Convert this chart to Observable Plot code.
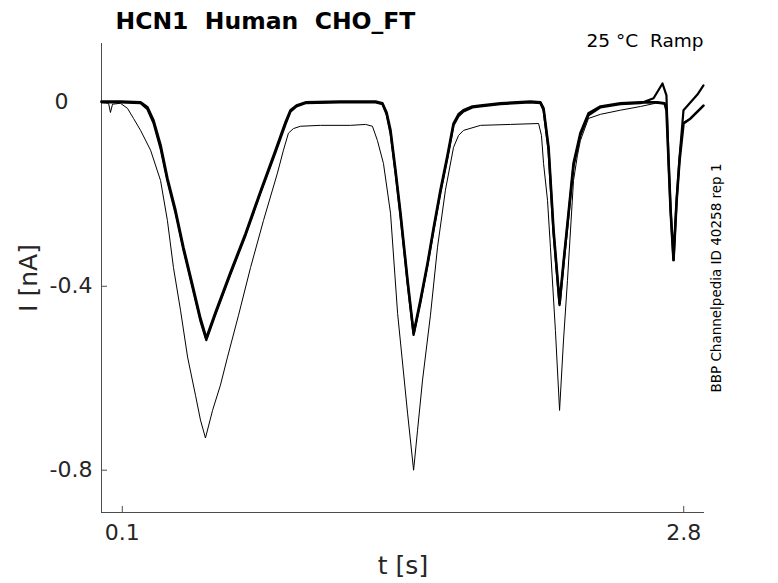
<!DOCTYPE html>
<html>
<head>
<meta charset="utf-8">
<script src="https://cdn.jsdelivr.net/npm/d3@7"></script>
<script src="https://cdn.jsdelivr.net/npm/@observablehq/plot@0.6"></script>
<style>
  html, body { margin: 0; padding: 0; background: #fff; }
  svg { font-family: "DejaVu Sans", sans-serif; }
</style>
</head>
<body>
<div id="chart"></div>
<script>
// ---- data (t in s, I in nA) ----
const timeA = [0.0,0.091,0.188,0.221,0.250,0.284,0.317,0.356,0.394,0.438,0.476,0.504,0.548,0.620,0.693,0.765,0.837,0.885,0.909,0.938,0.981,1.149,1.318,1.351,1.371,1.390,1.414,1.438,1.472,1.501,1.534,1.568,1.597,1.630,1.664,1.693,1.717,1.741,1.784,1.823,1.919,2.063,2.111,2.126,2.150,2.174,2.203,2.222,2.241,2.270,2.303,2.342,2.400,2.496,2.592,2.674,2.708,2.717,2.727,2.737,2.751,2.766,2.780,2.799,2.833,2.866,2.895];
const currentA = [0.002,0.002,0.0,-0.011,-0.039,-0.093,-0.165,-0.235,-0.315,-0.398,-0.470,-0.513,-0.457,-0.370,-0.285,-0.193,-0.104,-0.043,-0.017,-0.007,0.0,0.002,0.002,-0.002,-0.022,-0.061,-0.148,-0.241,-0.387,-0.502,-0.430,-0.350,-0.274,-0.191,-0.115,-0.046,-0.026,-0.017,-0.009,-0.007,-0.002,0.002,0.0,-0.013,-0.098,-0.278,-0.437,-0.348,-0.263,-0.133,-0.067,-0.024,-0.009,-0.002,0.0,0.0,-0.002,-0.017,-0.126,-0.235,-0.343,-0.213,-0.126,-0.046,-0.035,-0.020,-0.007];

const timeA2 = [0.0,0.091,0.188,0.221,0.250,0.284,0.317,0.356,0.394,0.438,0.476,0.504,0.548,0.620,0.693,0.765,0.837,0.885,0.909,0.938,0.981,1.149,1.318,1.351,1.371,1.390,1.414,1.438,1.472,1.501,1.534,1.568,1.597,1.630,1.664,1.693,1.717,1.741,1.784,1.823,1.919,2.063,2.111,2.126,2.150,2.174,2.203,2.222,2.241,2.270,2.303,2.342,2.400,2.496,2.592,2.655,2.698,2.717,2.727,2.737,2.751,2.766,2.780,2.799,2.833,2.866,2.895];
const currentA2 = [0.0,0.0,-0.002,-0.015,-0.045,-0.100,-0.171,-0.241,-0.321,-0.404,-0.476,-0.517,-0.461,-0.374,-0.289,-0.197,-0.109,-0.048,-0.020,-0.009,-0.002,0.0,0.0,-0.004,-0.026,-0.067,-0.154,-0.248,-0.393,-0.506,-0.435,-0.354,-0.278,-0.196,-0.120,-0.050,-0.030,-0.020,-0.011,-0.009,-0.004,0.0,-0.002,-0.017,-0.104,-0.285,-0.441,-0.352,-0.268,-0.139,-0.072,-0.028,-0.011,-0.004,-0.002,0.009,0.041,0.015,-0.126,-0.235,-0.343,-0.213,-0.120,-0.017,0.0,0.017,0.037];

const timeB = [0.0,0.034,0.043,0.053,0.091,0.125,0.154,0.188,0.236,0.284,0.317,0.346,0.380,0.414,0.452,0.476,0.500,0.534,0.572,0.606,0.659,0.717,0.779,0.846,0.875,0.899,0.923,0.957,1.053,1.198,1.270,1.303,1.327,1.356,1.390,1.424,1.472,1.501,1.520,1.544,1.582,1.616,1.654,1.693,1.717,1.741,1.823,1.967,2.102,2.116,2.126,2.145,2.159,2.183,2.203,2.222,2.241,2.270,2.289,2.303,2.342,2.400,2.496,2.592,2.664,2.708,2.717,2.727,2.737,2.751,2.766,2.785,2.799,2.833,2.866,2.895];
const currentB = [0.0,-0.002,-0.022,-0.004,-0.002,-0.013,-0.035,-0.061,-0.104,-0.170,-0.257,-0.359,-0.452,-0.554,-0.637,-0.691,-0.730,-0.670,-0.615,-0.554,-0.463,-0.359,-0.257,-0.154,-0.104,-0.067,-0.057,-0.052,-0.050,-0.050,-0.048,-0.052,-0.083,-0.133,-0.241,-0.459,-0.676,-0.800,-0.713,-0.604,-0.463,-0.315,-0.191,-0.098,-0.072,-0.061,-0.050,-0.048,-0.046,-0.072,-0.133,-0.213,-0.315,-0.496,-0.670,-0.517,-0.387,-0.170,-0.115,-0.083,-0.035,-0.026,-0.017,-0.009,-0.002,-0.004,-0.017,-0.126,-0.235,-0.339,-0.213,-0.104,-0.043,-0.035,-0.020,-0.007];

const xTicks = [0.1, 2.8];
const xTickLabels = ["0.1", "2.8"];
const yTicks = [0, -0.4, -0.8];
const yTickLabels = ["0", "-0.4", "-0.8"];
const xDomain = [0, 2.9];
const yDomain = [-0.892, 0.128];

const titleText = "HCN1  Human  CHO_FT";
const conditionText = "25 °C  Ramp";
const sideText = "BBP Channelpedia ID 40258 rep 1";
const xLabel = "t [s]";
const yLabel = "I [nA]";

// ---- build tables ----
const toRows = (ts, is) => ts.map((t, i) => ({t, I: is[i]}));
const rowsA = toRows(timeA, currentA);
const rowsA2 = toRows(timeA2, currentA2);
const rowsB = toRows(timeB, currentB);

const axisColor = "#4d4d4d";
const textColor = "#262626";

const chart = Plot.plot({
  width: 778,
  height: 583,
  marginLeft: 101,
  marginRight: 74,
  marginTop: 43,
  marginBottom: 71,
  style: {fontFamily: "DejaVu Sans", background: "#fff", overflow: "visible"},
  x: {domain: xDomain},
  y: {domain: yDomain},
  marks: [
    // axis spines
    Plot.ruleX([xDomain[0]], {stroke: axisColor, strokeWidth: 1}),
    Plot.ruleY([yDomain[0]], {stroke: axisColor, strokeWidth: 1}),
    // inward ticks
    Plot.axisX({ticks: xTicks, tickSize: -6, tickFormat: () => "", stroke: axisColor, label: null}),
    Plot.axisY({ticks: yTicks, tickSize: -6, tickFormat: () => "", stroke: axisColor, label: null}),
    // traces
    Plot.line(rowsB, {x: "t", y: "I", stroke: "#000", strokeWidth: 1}),
    Plot.line(rowsA2, {x: "t", y: "I", stroke: "#000", strokeWidth: 2.2}),
    Plot.line(rowsA, {x: "t", y: "I", stroke: "#000", strokeWidth: 2.6}),
    // x tick labels
    Plot.text(xTicks, {x: d => d, text: (d, i) => xTickLabels[i], frameAnchor: "bottom", lineAnchor: "top", dy: 12, fontSize: 22, fill: textColor}),
    // y tick labels
    Plot.text(yTicks.slice(0, 1), {y: d => d, text: (d, i) => yTickLabels[i], frameAnchor: "left", textAnchor: "end", dx: -33, fontSize: 22, fill: textColor}),
    Plot.text(yTicks.slice(1), {y: d => d, text: (d, i) => yTickLabels[i + 1], frameAnchor: "left", textAnchor: "end", dx: -9, fontSize: 22, fill: textColor}),
    // axis labels
    Plot.text([xLabel], {frameAnchor: "bottom", textAnchor: "middle", lineAnchor: "bottom", dy: 61, fontSize: 25, fill: textColor}),
    Plot.text([yLabel], {frameAnchor: "left", textAnchor: "middle", lineAnchor: "bottom", rotate: -90, dx: -65, fontSize: 25, fill: textColor}),
    // title and annotations
    Plot.text([titleText], {frameAnchor: "top-left", textAnchor: "start", lineAnchor: "bottom", dx: 14, dy: -15, fontSize: 23.5, fontWeight: "bold", fill: "#000"}),
    Plot.text([conditionText], {frameAnchor: "top-right", textAnchor: "end", lineAnchor: "bottom", dx: -1, dy: 3, fontSize: 18.5, fill: "#000"}),
    Plot.text([sideText], {frameAnchor: "right", textAnchor: "middle", lineAnchor: "bottom", rotate: -90, dx: 16, fontSize: 13.5, fill: "#000"})
  ]
});
document.getElementById("chart").appendChild(chart);
</script>
</body>
</html>
